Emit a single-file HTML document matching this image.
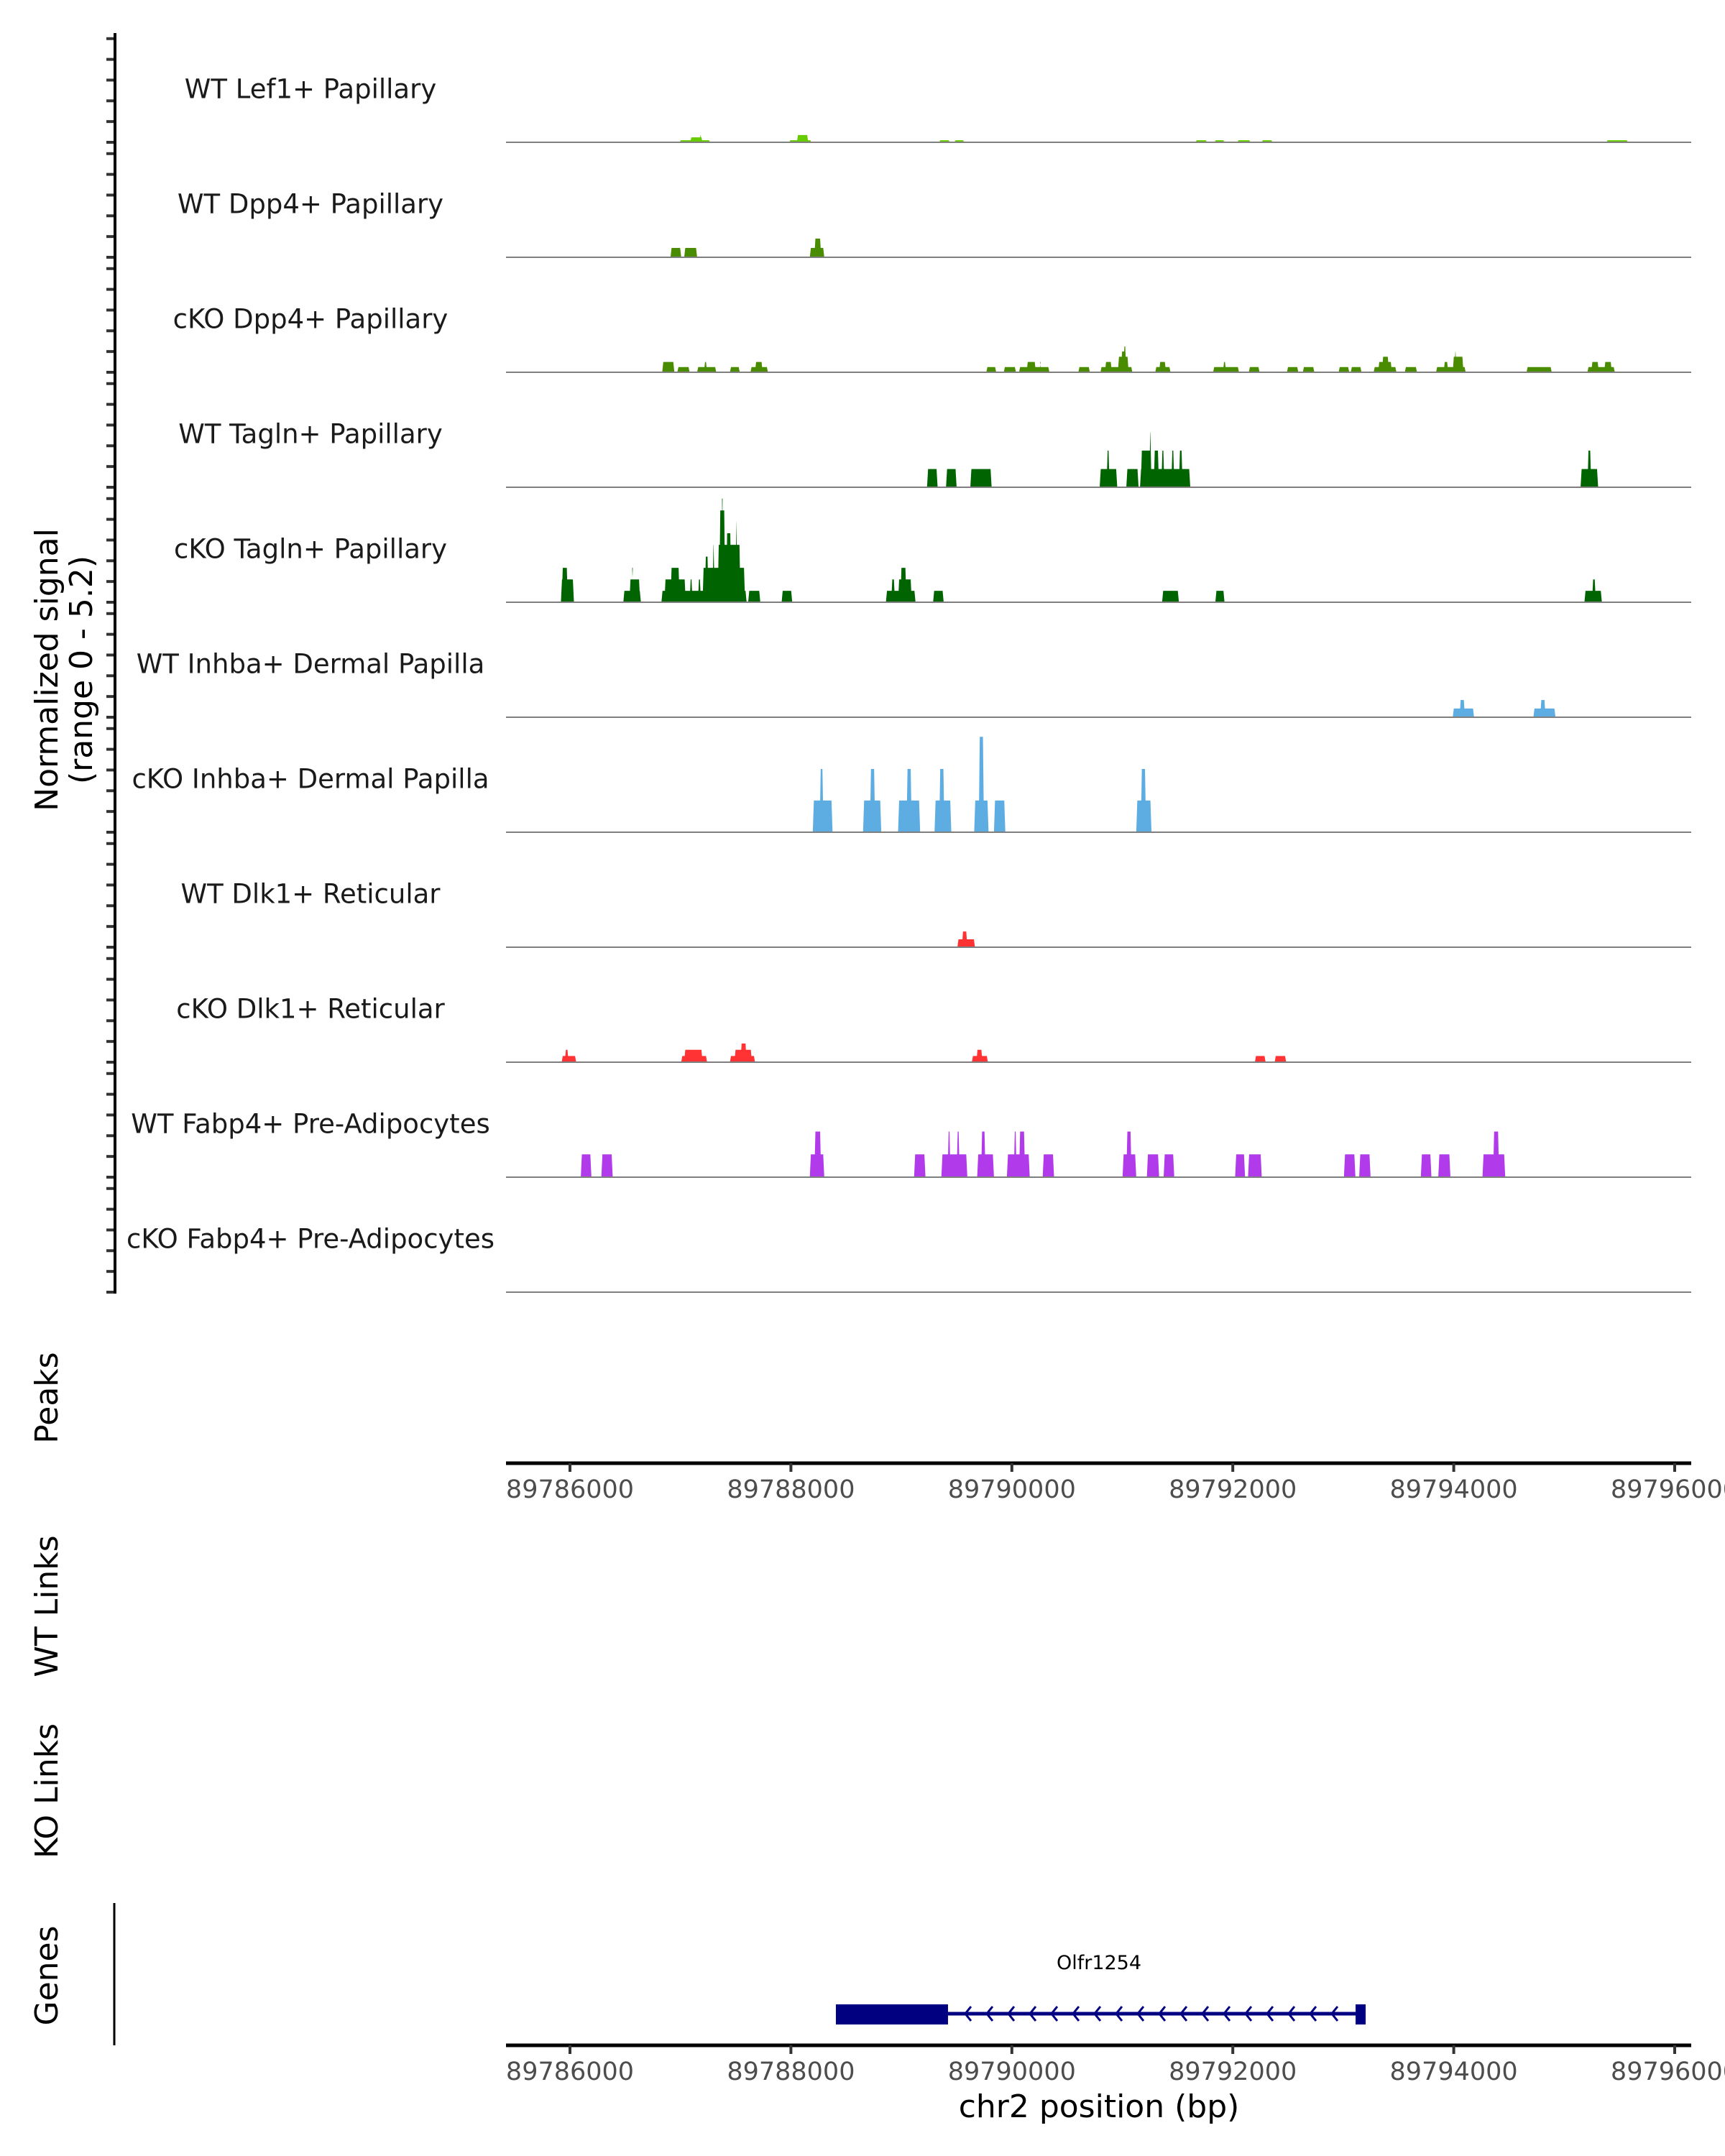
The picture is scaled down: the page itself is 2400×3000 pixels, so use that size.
<!DOCTYPE html>
<html><head><meta charset="utf-8"><style>
html,body{margin:0;padding:0;background:#fff;}
svg{display:block;font-family:"DejaVu Sans","Liberation Sans",sans-serif;}
</style></head><body>
<svg id="chart" width="2400" height="3000" viewBox="0 0 2400 3000" xmlns="http://www.w3.org/2000/svg">
<g id="tracks"></g>
<g id="axes"></g>
</svg>
<script>
// ---- data ----
const regionStart = 89786000;
const trackNames = ["WT Lef1+ Papillary","WT Dpp4+ Papillary","cKO Dpp4+ Papillary","WT Tagln+ Papillary","cKO Tagln+ Papillary","WT Inhba+ Dermal Papilla","cKO Inhba+ Dermal Papilla","WT Dlk1+ Reticular","cKO Dlk1+ Reticular","WT Fabp4+ Pre-Adipocytes","cKO Fabp4+ Pre-Adipocytes"];
const trackColors = ["#66cc00","#4a8c00","#4a8c00","#006400","#006400","#5dade2","#5dade2","#ff3333","#ff3333","#b13bea","#b13bea"];
// segments: [start offset bp, end offset bp, signal]
const sigLef1WT = [[993,1268,0.1],[1089,1200,0.24],[1172,1193,0.35],[1985,2185,0.1],[2054,2157,0.35],[3342,3438,0.1],[3480,3569,0.1],[5663,5766,0.1],[5835,5925,0.1],[6042,6159,0.1],[6262,6359,0.1],[9383,9576,0.1]];
const sigDpp4WT = [[910,1007,0.45],[1034,1151,0.45],[2171,2302,0.45],[2212,2274,0.9]];
const sigDpp4KO = [[835,945,0.5],[972,1083,0.25],[1151,1324,0.25],[1213,1241,0.5],[1448,1537,0.25],[1634,1792,0.25],[1675,1744,0.5],
 [3769,3858,0.25],[3927,4037,0.25],[4065,4340,0.25],[4134,4217,0.5],[4251,4265,0.5],[4602,4706,0.25],[4802,5091,0.25],[4843,4905,0.5],[4960,5057,0.75],[4988,5029,1.0],[5009,5036,1.25],
 [5298,5436,0.25],[5333,5395,0.5],[5822,6056,0.25],[5911,5939,0.5],[6145,6242,0.25],[6490,6593,0.25],[6634,6738,0.25],[6958,7054,0.25],[7068,7165,0.25],
 [7275,7481,0.25],[7316,7440,0.5],[7351,7413,0.75],[7557,7667,0.25],[7840,8108,0.25],[7909,7950,0.5],[7991,8088,0.75],[8005,8026,1.0],
 [8659,8887,0.25],[9210,9458,0.25],[9245,9313,0.5],[9362,9431,0.5]];
const sigTaglnWT = [[3232,3328,0.88],[3404,3500,0.88],[3624,3817,0.88],[4795,4954,0.88],[4857,4885,1.77],[5036,5147,0.88],[5160,5615,0.88],[5167,5264,1.77],[5243,5264,2.65],[5284,5332,1.77],[5353,5381,1.77],[5443,5471,1.77],[5512,5546,1.77],[9148,9307,0.88],[9210,9245,1.77]];
const sigTaglnKO = [[-82,36,1.1],[-75,-19,1.66],[483,642,0.55],[538,635,1.1],[559,573,1.66],[828,1599,0.55],[855,1048,1.1],[910,993,1.66],[1083,1110,1.1],[1158,1186,1.1],[1200,1585,1.66],[1220,1255,2.2],[1289,1310,2.77],[1337,1544,2.77],[1351,1406,4.43],[1372,1386,5.0],[1413,1461,3.33],[1496,1516,3.9],[1613,1723,0.55],[1916,2012,0.55],
 [2860,3128,0.55],[2908,2942,1.1],[2970,3094,1.1],[2991,3046,1.66],[3287,3383,0.55],[5360,5512,0.55],[5842,5925,0.55],[9183,9341,0.55],[9252,9286,1.1]];
const sigInhbaWT = [[7991,8184,0.42],[8053,8101,0.83],[8721,8921,0.42],[8783,8831,0.83]];
const sigInhbaKO = [[2198,2377,1.53],[2260,2295,3.05],[2653,2818,1.53],[2715,2763,3.05],[2970,3170,1.53],[3046,3094,3.05],[3300,3452,1.53],[3342,3390,3.05],[3659,3789,1.53],[3700,3748,4.6],[3838,3941,1.53],[5126,5264,1.53],[5167,5215,3.05]];
const sigDlk1WT = [[3507,3666,0.38],[3548,3597,0.76]];
const sigDlk1KO = [[-75,56,0.3],[-47,-13,0.6],[1007,1241,0.3],[1034,1200,0.6],[1448,1675,0.3],[1489,1647,0.6],[1544,1599,0.9],[3638,3783,0.3],[3679,3734,0.6],[6200,6297,0.3],[6379,6483,0.3]];
const sigFabp4WT = [[98,194,1.1],[284,387,1.1],[2171,2302,1.1],[2212,2274,2.2],[3115,3218,1.1],[3362,3597,1.1],[3418,3445,2.2],[3500,3528,2.2],[3686,3838,1.1],[3721,3762,2.2],[3955,4162,1.1],[4017,4044,2.2],[4065,4120,2.2],[4279,4382,1.1],[5002,5126,1.1],[5036,5084,2.2],[5222,5333,1.1],[5374,5470,1.1],[6021,6111,1.1],[6138,6262,1.1],[7006,7110,1.1],[7144,7247,1.1],[7702,7798,1.1],[7860,7970,1.1],[8260,8466,1.1],[8356,8411,2.2]];
const sigFabp4KO = [];
const xTicks = [89786000,89788000,89790000,89792000,89794000,89796000];
const geneName = "Olfr1254";
const geneStart = 89788407, geneThickEnd = 89789422, geneEnd = 89793157;
const yMax = 5.2;

// ---- scales ----
const NS = "http://www.w3.org/2000/svg";
const plotL = 704, plotR = 2353;
const trackTop0 = 198, trackStep = 160, trackH = 150;
function xs(bp){ return 793 + (bp - regionStart) * 0.1537; }
function ys(v, base){ return base - v / yMax * trackH; }
function mk(tag, attrs, parent){ const e=document.createElementNS(NS,tag); for(const k in attrs) e.setAttribute(k,attrs[k]); parent.appendChild(e); return e; }

const tracksG = document.getElementById('tracks');
const axesG = document.getElementById('axes');
const allSignals = [sigLef1WT,sigDpp4WT,sigDpp4KO,sigTaglnWT,sigTaglnKO,sigInhbaWT,sigInhbaKO,sigDlk1WT,sigDlk1KO,sigFabp4WT,sigFabp4KO];

trackNames.forEach((name,i)=>{
  const base = trackTop0 + i*trackStep;
  const g = mk('g',{},tracksG);
  
  
  const lab = mk('text',{x:432,y:base-72,'font-size':37,'text-anchor':'middle','dominant-baseline':'middle',fill:'#1a1a1a'},g);
  lab.textContent = name;
  
  
  allSignals[i].forEach(s=>{
    const x0 = xs(regionStart + s[0]), x1 = xs(regionStart + s[1]), y = ys(s[2], base);
    const p = mk('polygon',{points:`${x0},${base} ${x0+1.5},${y} ${x1-1.5},${y} ${x1},${base}`,fill:trackColors[i]},g);
    
    
  });
  const bl = mk('line',{x1:plotL,x2:plotR,y1:base,y2:base,stroke:'#7f7f7f','stroke-width':2},g);
  
  
  for(let k=0;k<=5;k++){
    const ty = ys(k, base);
    const t = mk('line',{x1:148,x2:160,y1:ty,y2:ty,stroke:'#333','stroke-width':4},axesG);
    
    
  }
});

// y axis line
const yl = mk('line',{x1:160,x2:160,y1:46,y2:1800,stroke:'#000','stroke-width':4},axesG);


const yt = mk('text',{transform:'translate(80,932) rotate(-90)','font-size':44,'text-anchor':'middle',fill:'#000'},axesG);
yt.textContent = 'Normalized signal';


const yt2 = mk('text',{transform:'translate(128,932) rotate(-90)','font-size':44,'text-anchor':'middle',fill:'#000'},axesG);
yt2.textContent = '(range 0 - 5.2)';



// side labels
[['Peaks',1945],['WT Links',2235],['KO Links',2492],['Genes',2749]].forEach(d=>{
  const t = mk('text',{transform:`translate(80,${d[1]}) rotate(-90)`,'font-size':44,'text-anchor':'middle',fill:'#000'},axesG);
  t.textContent = d[0];
  
  
});

// x axes
[2036,2846].forEach((ay,ai)=>{
  const l = mk('line',{x1:plotL,x2:plotR,y1:ay,y2:ay,stroke:'#000','stroke-width':5},axesG);
  
  
  xTicks.forEach(v=>{
    const x = xs(v);
    const t = mk('line',{x1:x,x2:x,y1:ay,y2:ay+12,stroke:'#333','stroke-width':4},axesG);
    
    
    const tl = mk('text',{x:x,y:ay+48,'font-size':35,'text-anchor':'middle',fill:'#4d4d4d'},axesG);
    tl.textContent = String(v);
    
    
  });
});
const xt = mk('text',{x:1529,y:2946,'font-size':44,'text-anchor':'middle',fill:'#000'},axesG);
xt.textContent = 'chr2 position (bp)';



// genes panel
const gl = mk('line',{x1:159,x2:159,y1:2648,y2:2846,stroke:'#000','stroke-width':3},axesG);


const gg = mk('g',{},axesG);


const gx0 = xs(geneStart), gx1 = xs(geneThickEnd), gx2 = xs(geneEnd);
mk('line',{x1:gx1,x2:gx2,y1:2802,y2:2802,stroke:'#000080','stroke-width':5},gg);
mk('rect',{x:gx0,y:2789,width:gx1-gx0,height:28,fill:'#000080'},gg);
mk('rect',{x:gx2-7,y:2789,width:14,height:28,fill:'#000080'},gg);
for(let cx = gx1+28; cx < gx2-14; cx += 30){
  mk('polyline',{points:`${cx+4},${2792} ${cx-4},${2802} ${cx+4},${2812}`,fill:'none',stroke:'#000080','stroke-width':3},gg);
}
const gt = mk('text',{x:1529,y:2740,'font-size':27,'text-anchor':'middle',fill:'#000'},gg);
gt.textContent = geneName;


</script>
</body></html>
